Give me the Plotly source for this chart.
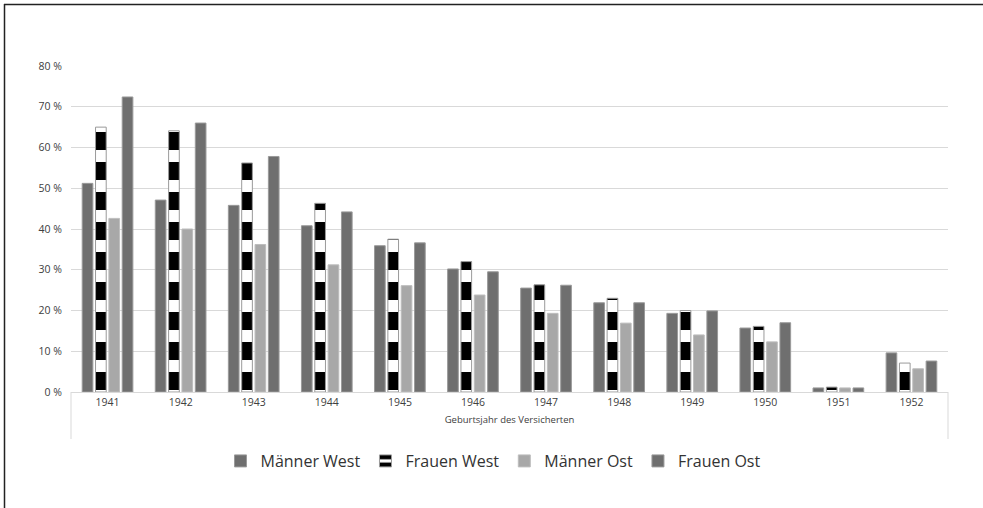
import plotly.graph_objects as go

years = ["1941", "1942", "1943", "1944", "1945", "1946", "1947", "1948", "1949", "1950", "1951", "1952"]
maenner_west = [51.2, 47.1, 45.8, 40.8, 35.9, 30.2, 25.5, 21.9, 19.3, 15.7, 1.0, 9.6]
frauen_west = [65.0, 64.1, 56.2, 46.3, 37.5, 32.0, 26.3, 23.0, 20.0, 16.1, 1.2, 7.1]
maenner_ost = [42.6, 40.0, 36.2, 31.2, 26.1, 23.8, 19.3, 16.9, 14.0, 12.3, 1.0, 5.7]
frauen_ost = [72.4, 66.0, 57.8, 44.2, 36.6, 29.5, 26.2, 21.9, 19.9, 17.0, 1.0, 7.6]

y_ticks = [0, 10, 20, 30, 40, 50, 60, 70, 80]
y_ticktext = [f"{v} %" for v in y_ticks]

W, H = 983, 508
ML, MR, MT, MB = 71, 35, 66, 116
PW = W - ML - MR
PH = H - MT - MB

FONT = "Open Sans, Liberation Sans, sans-serif"
line_col = "#9a9a9a"

fig = go.Figure()
fig.add_trace(go.Bar(name="Männer West", x=years, y=maenner_west,
                     marker=dict(color="#6f6f6f", line=dict(color=line_col, width=1))))
fig.add_trace(go.Bar(name="Frauen West", x=years, y=frauen_west,
                     marker=dict(color="#ffffff", line=dict(color=line_col, width=1),
                                 pattern=dict(shape="-", fillmode="replace", fgcolor="#000000",
                                              bgcolor="#ffffff", size=30, solidity=0.6))))
fig.add_trace(go.Bar(name="Männer Ost", x=years, y=maenner_ost,
                     marker=dict(color="#a8a8a8", line=dict(color="#bdbdbd", width=1))))
fig.add_trace(go.Bar(name="Frauen Ost", x=years, y=frauen_ost,
                     marker=dict(color="#6f6f6f", line=dict(color=line_col, width=1))))

def px2x(px):
    return (px - ML) / PW

def py2y(py):
    return (H - MB - py) / PH

shapes = [
    dict(type="line", xref="paper", yref="paper", x0=0, x1=0, y0=0, y1=py2y(439),
         line=dict(color="#d9d9d9", width=1)),
    dict(type="line", xref="paper", yref="paper", x0=1, x1=1, y0=0, y1=py2y(439),
         line=dict(color="#d9d9d9", width=1)),
    dict(type="line", xref="paper", yref="paper", x0=px2x(4.5), x1=px2x(4.5), y0=py2y(4), y1=py2y(510),
         line=dict(color="#222222", width=1.5)),
    dict(type="line", xref="paper", yref="paper", x0=px2x(4), x1=px2x(990), y0=py2y(4.5), y1=py2y(4.5),
         line=dict(color="#222222", width=1.5)),
]

fig.update_layout(
    width=W, height=H,
    margin=dict(l=ML, r=MR, t=MT, b=MB, pad=0),
    paper_bgcolor="white", plot_bgcolor="white",
    barmode="group", bargap=0.27, bargroupgap=0.2,
    font=dict(family=FONT, color="#595959", size=11),
    showlegend=True,
    legend=dict(orientation="h", x=px2x(493), xanchor="center", y=py2y(461), yanchor="middle",
                font=dict(size=16, color="#333333", family=FONT), itemwidth=30,
                traceorder="normal"),
    shapes=shapes,
    xaxis=dict(type="category", showgrid=False, zeroline=False, showline=True,
               linecolor="#d9d9d9", linewidth=1, ticks="", tickfont=dict(size=10.5, color="#404040"),
               title=dict(text="Geburtsjahr des Versicherten", font=dict(size=9.5, color="#404040"),
                          standoff=8)),
    yaxis=dict(range=[0, 80], tickvals=y_ticks, ticktext=y_ticktext, showgrid=True,
               gridcolor="#d9d9d9", gridwidth=1, zeroline=False, showline=False,
               ticks="", ticklabelstandoff=8, tickfont=dict(size=10.5, color="#404040")),
)

fig.write_html("out.html", config={"displayModeBar": False},
               post_script="document.body.style.margin='0';")
